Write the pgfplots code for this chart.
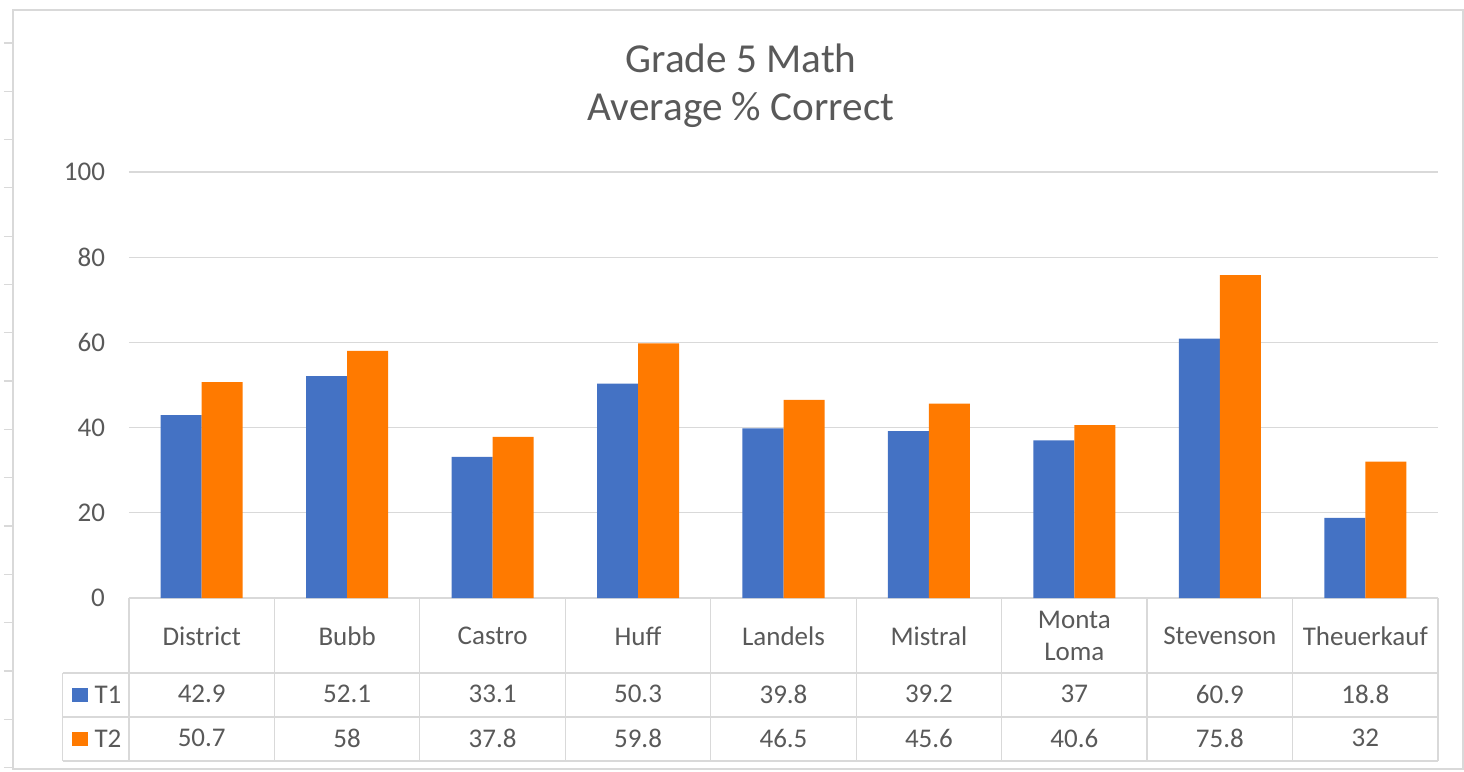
\documentclass[border=0pt]{standalone}
\usepackage{pgfplots}
\pgfplotsset{compat=1.18}
\usepackage{pgfplotstable}
\usepackage{fontspec}
\setmainfont{Carlito}

\definecolor{tone}{RGB}{68,114,196}
\definecolor{ttwo}{RGB}{255,122,0}
\definecolor{txt}{RGB}{89,89,89}
\definecolor{rule}{RGB}{217,217,217}

% average % correct per school, two testing windows
\pgfplotstableread{
idx T1   T2
0   42.9 50.7
1   52.1 58
2   33.1 37.8
3   50.3 59.8
4   39.8 46.5
5   39.2 45.6
6   37   40.6
7   60.9 75.8
8   18.8 32
}\scores

\begin{document}
\begin{tikzpicture}
\begin{axis}[
    at={(0,0)}, anchor=south west,
    scale only axis,
    width=654.5pt, height=213pt,
    xmin=-0.5, xmax=8.5, ymin=0, ymax=100,
    xtick={0,...,8}, ytick={0,20,...,100},
    xticklabels={District,Bubb,Castro,Huff,Landels,Mistral,{Monta\\Loma},Stevenson,Theuerkauf},
    ymajorgrids, grid style={rule, line width=0.6pt},
    axis line style={draw=none}, major tick length=0pt,
    tick label style={text=txt, font=\fontsize{13.5}{16}\selectfont},
    xticklabel style={anchor=center, align=center, yshift=-19pt},
    yticklabel style={xshift=-8.5pt},
    /pgf/number format/assume math mode=true,
    every node near coord/.append style={anchor=center, text=txt, font=\fontsize{13.5}{16}\selectfont},
    clip=false,
]
    \addplot[ybar, bar width=20.5pt, bar shift=-10.25pt, fill=tone, draw=none] table[x=idx, y=T1] {\scores};
    \addplot[ybar, bar width=20.5pt, bar shift=10.25pt, fill=ttwo, draw=none] table[x=idx, y=T2] {\scores};
    % data table rows under the chart
    \addplot[only marks, mark=*, mark size=0pt, mark options={draw=none, fill=none},
        point meta=explicit, nodes near coords] table[x=idx, y expr=-22.6, meta=T1] {\scores};
    \addplot[only marks, mark=*, mark size=0pt, mark options={draw=none, fill=none},
        point meta=explicit, nodes near coords] table[x=idx, y expr=-32.9, meta=T2] {\scores};
\end{axis}
% frame, table grid and title in pixel units of the reference
\begin{scope}[shift={(-64.5pt,299pt)}, x=0.5pt, y=-0.5pt]
    \draw[rule, line width=0.6pt] (13,10) -- (1463,10) -- (1463,769) -- (13,769) -- cycle;
    \foreach \r in {0,...,15} \draw[rule, line width=0.6pt] (4,43+48.3*\r) -- (13,43+48.3*\r);
    \foreach \k in {0,...,9} \draw[rule, line width=0.6pt] (129+145.44*\k,598) -- (129+145.44*\k,761);
    \draw[rule, line width=0.6pt] (62.7,673) -- (1438,673);
    \draw[rule, line width=0.6pt] (62.7,717) -- (1438,717);
    \draw[rule, line width=0.6pt] (62.7,761) -- (1438,761);
    \draw[rule, line width=0.6pt] (62.7,673) -- (62.7,761);
    \fill[tone] (72,688) rectangle (88,702);
    \fill[ttwo] (72,732) rectangle (88,746);
    \node[text=txt, font=\fontsize{13.5}{16}\selectfont] at (108,695) {T1};
    \node[text=txt, font=\fontsize{13.5}{16}\selectfont] at (108,739) {T2};
    \node[text=txt, font=\fontsize{20.6}{24}\selectfont] at (741,58) {Grade 5 Math};
    \node[text=txt, font=\fontsize{20.6}{24}\selectfont] at (741,110) {Average \% Correct};
    \pgfresetboundingbox
    \path[use as bounding box] (0,0) rectangle (1464,772);
\end{scope}
\end{tikzpicture}
\end{document}
